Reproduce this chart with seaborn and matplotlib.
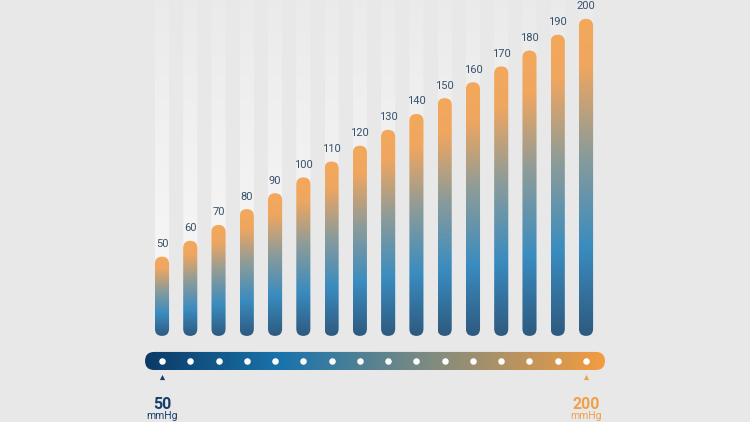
import numpy as np
import pandas as pd
import matplotlib
matplotlib.use('Agg')
import matplotlib.pyplot as plt
import seaborn as sns
from matplotlib.patches import FancyBboxPatch
from matplotlib.colors import LinearSegmentedColormap

# data
categories = ['50', '60', '70', '80', '90', '100', '110', '120',
              '130', '140', '150', '160', '170', '180', '190', '200']
values = [50, 60, 70, 80, 90, 100, 110, 120, 130, 140, 150, 160, 170, 180, 190, 200]
scale_labels = ['50', '200']
unit = 'mmHg'

bg = '#e8e8e8'
navy = '#163f6b'
orange = '#f0a04a'

sns.set_theme(style='white')
plt.rcParams['font.family'] = ['Roboto', 'DejaVu Sans']

df = pd.DataFrame({'pressure': categories, 'value': values})

fig = plt.figure(figsize=(7.5, 4.22), dpi=100, facecolor=bg)
ax = fig.add_axes([0, 0, 1, 1])
ax.set_facecolor(bg)

sns.barplot(data=df, x='pressure', y='value', width=0.5, color='#3a8cc0', ax=ax)

# place axes so bars sit in the middle of the canvas
XLIM, YLIM = (-5.73, 20.8), (-54.3, 211.9)
ax.set_xlim(*XLIM)
ax.set_ylim(*YLIM)
ax.axis('off')

# px per data unit -> aspect for rounded caps
fig.canvas.draw()
p0 = ax.transData.transform((0, 0))
p1 = ax.transData.transform((1, 1))
asp = (p1[0] - p0[0]) / (p1[1] - p0[1])

bar_cmap = LinearSegmentedColormap.from_list('bar', [
    (0.0, '#2e5a7f'), (0.28, '#3a8cc0'), (0.58, '#8e9c98'),
    (0.85, '#efa660'), (1.0, '#f3a85b')])
grad = np.linspace(0, 1, 256).reshape(-1, 1)

top = YLIM[1]
bars = list(ax.patches)
for p in bars:
    x, w, h = p.get_x(), p.get_width(), p.get_height()
    p.remove()
    r = w / 2
    # faint background track
    track = FancyBboxPatch((x, 0), w, top + 20, boxstyle=f'round,pad=0,rounding_size={r}',
                           mutation_aspect=asp, facecolor='none', edgecolor='none')
    ax.add_patch(track)
    timg = np.ones((256, 1, 4))
    timg[:, 0, 3] = np.linspace(0.75, 0.12, 256)
    ax.imshow(timg, extent=(x, x + w, 0, top), origin='lower', aspect='auto',
              clip_path=track, zorder=1)
    # gradient bar
    shape = FancyBboxPatch((x, 0), w, h, boxstyle=f'round,pad=0,rounding_size={r}',
                           mutation_aspect=asp, facecolor='none', edgecolor='none', zorder=2)
    ax.add_patch(shape)
    ax.imshow(grad, extent=(x, x + w, 0, h), origin='lower', aspect='auto',
              cmap=bar_cmap, clip_path=shape, zorder=2)
    ax.annotate(f'{h:.0f}', (x + w / 2, h), xytext=(0, 9), textcoords='offset points',
                ha='center', va='center', fontsize=8, color='#37506b', zorder=3)

# slider scale underneath
n = len(values)
pos = np.arange(n)
sy, sh = -15.8, 11.4
sx0, sx1 = pos[0] - 0.6, pos[-1] + 0.67
slider = FancyBboxPatch((sx0, sy - sh / 2), sx1 - sx0, sh,
                        boxstyle=f'round,pad=0,rounding_size={sh / 2 / asp}',
                        mutation_aspect=asp, facecolor='none', edgecolor='none')
ax.add_patch(slider)
sl_cmap = LinearSegmentedColormap.from_list('slider', [
    (0.0, '#0c3a66'), (0.3, '#1a74ac'), (0.62, '#7f8b80'), (1.0, '#f49c3f')])
ax.imshow(np.linspace(0, 1, 256).reshape(1, -1), extent=(sx0, sx1, sy - sh / 2, sy + sh / 2),
          aspect='auto', cmap=sl_cmap, clip_path=slider, zorder=2)
ax.scatter(pos, [sy] * n, s=22, color='white', zorder=3, linewidths=0)

ax.scatter([pos[0]], [-25.9], marker='^', s=14, color=navy, linewidths=0)
ax.scatter([pos[-1]], [-25.9], marker='^', s=14, color=orange, linewidths=0)

for i, lab, col in [(pos[0], scale_labels[0], navy), (pos[-1], scale_labels[1], orange)]:
    ax.text(i, -43.0, lab, ha='center', va='center', fontsize=11.5,
            fontweight='bold', color=col)
    ax.text(i, -50.8, unit, ha='center', va='center', fontsize=7.5, color=col)

ax.set_xlim(*XLIM)
ax.set_ylim(*YLIM)

fig.savefig('out.png', dpi=100, facecolor=bg)
